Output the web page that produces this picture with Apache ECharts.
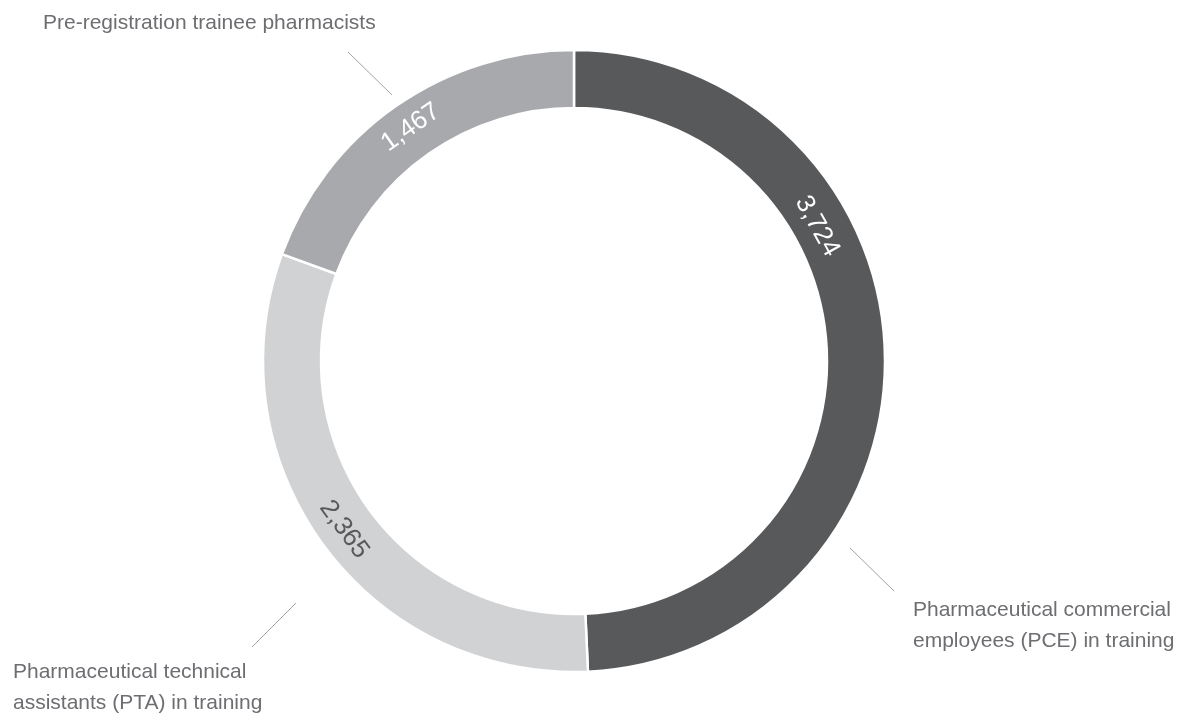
<!DOCTYPE html>
<html>
<head>
<meta charset="utf-8">
<style>
  html, body { margin: 0; padding: 0; background: #ffffff; }
  #chart { width: 1180px; height: 716px; }
</style>
<script src="https://cdn.jsdelivr.net/npm/echarts@6/dist/echarts.min.js"></script>
</head>
<body>
<div id="chart"></div>
<script>
// Trainees by group
const categories = [
  'Pharmaceutical commercial\nemployees (PCE) in training',
  'Pharmaceutical technical\nassistants (PTA) in training',
  'Pre-registration trainee pharmacists'
];
const values = [3724, 2365, 1467];
const colors = ['#58595b', '#d1d2d4', '#a7a9ac'];
const valueColors = ['#ffffff', '#58595b', '#ffffff'];

// Ring geometry
const CX = 574, CY = 361, R_IN = 253, R_OUT = 311;
const FONT = '"Liberation Sans", Arial, Helvetica, sans-serif';

// Value label for the PCE ring is set a little higher up the arc
const labelAngleOverride = { 0: 61 };

// Category captions with their leader lines: line end points and text anchor
const captions = [
  { line: [850, 548, 894, 591], x: 913, y: 626 },
  { line: [296, 603, 252, 647], x: 13, y: 688 },
  { line: [392, 95, 348, 52], x: 43, y: 23 }
];

const fmt = v => v.toLocaleString('en-US');

const chart = echarts.init(document.getElementById('chart'), null, { renderer: 'canvas' });

const graphics = [];
captions.forEach((c, i) => {
  graphics.push({
    type: 'line',
    shape: { x1: c.line[0], y1: c.line[1], x2: c.line[2], y2: c.line[3] },
    style: { stroke: '#a3a3a3', lineWidth: 1 },
    silent: true
  });
  graphics.push({
    type: 'text',
    x: c.x,
    y: c.y,
    style: {
      text: categories[i],
      font: '21px ' + FONT,
      fill: '#6d6e71',
      textVerticalAlign: 'middle',
      textAlign: 'left',
      lineHeight: 31
    },
    silent: true
  });
});

chart.setOption({
  animation: false,
  backgroundColor: '#ffffff',
  graphic: graphics,
  series: [{
    type: 'pie',
    center: [CX, CY],
    radius: [R_IN, R_OUT],
    startAngle: 90,
    clockwise: true,
    silent: true,
    data: categories.map((name, i) => ({
      name: name,
      value: values[i],
      itemStyle: { color: colors[i] },
      label: { color: valueColors[i] }
    })),
    itemStyle: { borderColor: '#ffffff', borderWidth: 2.5 },
    label: {
      show: true,
      position: 'inside',
      rotate: 'tangential',
      fontFamily: FONT,
      fontSize: 26,
      formatter: p => fmt(p.value)
    },
    labelLine: { show: false },
    labelLayout: function (params) {
      const a = labelAngleOverride[params.dataIndex];
      if (a === undefined) return {};
      const rad = a * Math.PI / 180;
      const rm = (R_IN + R_OUT) / 2 - 4;
      return {
        x: CX + rm * Math.sin(rad),
        y: CY - rm * Math.cos(rad),
        rotate: -a,
        align: 'center',
        verticalAlign: 'middle'
      };
    }
  }]
});
</script>
</body>
</html>
